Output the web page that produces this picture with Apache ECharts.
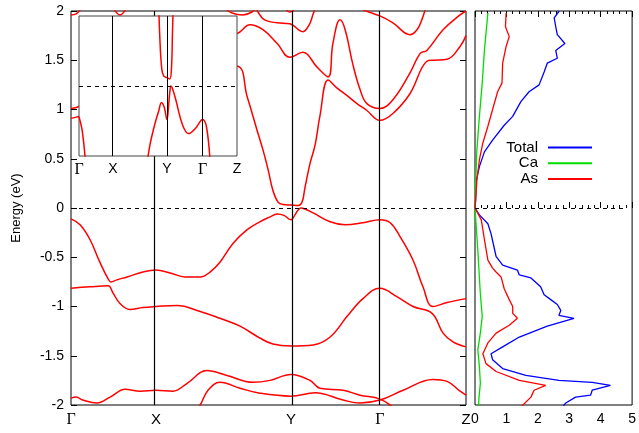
<!DOCTYPE html>
<html><head><meta charset="utf-8">
<script src="https://cdn.jsdelivr.net/npm/echarts@6/dist/echarts.min.js"></script>
<style>html,body{margin:0;padding:0;background:#fff}#c{width:639px;height:433px}</style>
</head><body><div id="c"></div>
<script>
// high-symmetry points along the k-path (fraction of path length)
const kPos = [0, 0.215, 0.557, 0.782, 1];
const kLabels = ['Γ', 'X', 'Y', 'Γ', 'Z'];
const energyTicks = [-2, 2, 0.5];

// band energies [k, E(eV)]
const bandV1 = [[0,-0.11],[0.023,-0.17],[0.048,-0.32],[0.073,-0.55],[0.094,-0.72],[0.101,-0.75],[0.116,-0.73],[0.142,-0.70],[0.182,-0.65],[0.215,-0.63],[0.251,-0.66],[0.289,-0.70],[0.327,-0.70],[0.352,-0.65],[0.377,-0.55],[0.410,-0.36],[0.446,-0.22],[0.478,-0.14],[0.504,-0.09],[0.522,-0.06],[0.539,-0.075],[0.557,-0.12],[0.567,-0.07],[0.575,-0.02],[0.582,0.0],[0.592,-0.01],[0.613,-0.05],[0.656,-0.14],[0.694,-0.17],[0.739,-0.15],[0.782,-0.12],[0.808,-0.15],[0.833,-0.29],[0.866,-0.53],[0.891,-0.80],[0.916,-1.00],[0.952,-0.96],[1.0,-0.92]];
const bandV2 = [[0,-0.815],[0.048,-0.80],[0.094,-0.79],[0.106,-0.86],[0.124,-0.97],[0.149,-1.03],[0.182,-1.01],[0.215,-1.00],[0.268,-0.99],[0.327,-1.05],[0.377,-1.12],[0.428,-1.20],[0.478,-1.32],[0.511,-1.38],[0.557,-1.40],[0.613,-1.39],[0.656,-1.31],[0.699,-1.10],[0.739,-0.92],[0.782,-0.815],[0.825,-0.90],[0.866,-1.00],[0.914,-1.07],[0.942,-1.27],[0.967,-1.36],[1.0,-1.41]];
const bandV3 = [[0,-1.93],[0.013,-1.92],[0.030,-1.95],[0.066,-1.98],[0.099,-1.92],[0.137,-1.84],[0.175,-1.86],[0.215,-1.85],[0.258,-1.86],[0.294,-1.78],[0.344,-1.65],[0.395,-1.70],[0.461,-1.77],[0.504,-1.75],[0.557,-1.69],[0.605,-1.75],[0.630,-1.83],[0.689,-1.85],[0.732,-1.90],[0.782,-1.94],[0.815,-2.02],[0.833,-2.08]];
const bandV4 = [[0.316,-2.05],[0.327,-2.00],[0.347,-1.85],[0.377,-1.77],[0.428,-1.83],[0.478,-1.88],[0.557,-1.91],[0.618,-1.875],[0.689,-1.95],[0.732,-1.98],[0.782,-1.95],[0.841,-1.85],[0.916,-1.74],[0.952,-1.76],[0.985,-1.86],[1.0,-1.90]];
const bandC1 = [[0,0.91],[0.020,0.93],[0.099,1.05],[0.215,1.20],[0.327,1.35],[0.420,1.44],[0.446,1.13],[0.471,0.79],[0.486,0.59],[0.499,0.39],[0.511,0.18],[0.524,0.06],[0.537,0.035],[0.557,0.03],[0.575,0.025],[0.585,0.06],[0.592,0.20],[0.605,0.45],[0.618,0.64],[0.630,0.93],[0.651,1.30],[0.673,1.22],[0.699,1.14],[0.724,1.06],[0.749,0.99],[0.782,0.89],[0.815,0.96],[0.858,1.16],[0.901,1.49],[0.916,1.50],[0.952,1.51],[0.985,1.64],[1.0,1.75]];
const bandC2 = [[0,1.01],[0.020,1.03],[0.099,1.20],[0.215,1.50],[0.327,1.70],[0.420,1.77],[0.453,1.86],[0.486,1.81],[0.522,1.67],[0.554,1.53],[0.587,1.58],[0.623,1.43],[0.651,1.33],[0.663,1.67],[0.681,1.91],[0.694,1.81],[0.714,1.45],[0.732,1.20],[0.749,1.06],[0.782,1.01],[0.815,1.10],[0.858,1.37],[0.884,1.57],[0.901,1.60],[0.942,1.81],[0.985,1.96],[1.0,2.0]];
const bandC3 = [[0.466,2.04],[0.484,1.93],[0.496,1.90],[0.522,1.88],[0.554,1.87],[0.587,1.79],[0.603,1.86],[0.613,1.97],[0.620,2.05]];
const bandC4 = [[0.719,2.05],[0.747,2.0],[0.782,1.95],[0.815,1.88],[0.858,1.76],[0.876,1.81],[0.889,1.92],[0.899,2.05]];
const bandC5 = [[0.382,2.05],[0.408,1.98],[0.435,1.96],[0.458,1.99],[0.473,2.05]];
const bandC6 = [[0,1.96],[0.013,1.97],[0.028,2.04]];
const bandC7 = [[0.106,2.04],[0.124,1.96],[0.142,2.04]];
const bandC8 = [[0.539,2.04],[0.554,1.99],[0.570,2.04]];
const bandList = [bandV1,bandV2,bandV3,bandV4,bandC1,bandC2,bandC3,bandC4,bandC5,bandC6,bandC7,bandC8];

// DOS [states/eV, E(eV)]
const dosTotal = [[2.68,2.0],[2.52,1.93],[2.57,1.84],[2.62,1.76],[2.86,1.67],[2.57,1.60],[2.62,1.52],[2.30,1.47],[2.20,1.38],[2.04,1.25],[1.72,1.18],[1.46,1.08],[1.20,0.93],[0.93,0.84],[0.56,0.69],[0.30,0.57],[0.14,0.42],[0.04,0.28],[0.02,0.08],[0.0,0.0],[0.14,-0.07],[0.41,-0.16],[0.51,-0.26],[0.67,-0.49],[0.88,-0.58],[1.35,-0.63],[1.41,-0.68],[1.78,-0.71],[2.09,-0.80],[2.20,-0.88],[2.41,-0.93],[2.62,-0.98],[2.73,-1.04],[2.67,-1.09],[3.15,-1.12],[2.30,-1.20],[1.41,-1.31],[0.88,-1.41],[0.51,-1.48],[0.56,-1.54],[0.88,-1.63],[1.62,-1.70],[2.67,-1.75],[3.73,-1.77],[4.31,-1.80],[3.73,-1.85],[3.68,-1.90],[3.20,-1.92],[2.89,-1.98],[2.78,-2.02]];
const dosCa = [[0.41,1.98],[0.30,1.60],[0.23,1.27],[0.14,0.93],[0.06,0.59],[0.02,0.25],[0,0],[0.09,-0.43],[0.17,-0.87],[0.23,-1.10],[0.17,-1.27],[0.09,-1.44],[0.14,-1.61],[0.17,-1.78],[0.12,-1.95],[0.12,-2.02]];
const dosAs = [[0.99,1.98],[0.97,1.84],[1.09,1.74],[0.99,1.64],[0.88,1.47],[0.86,1.27],[0.72,1.18],[0.56,1.0],[0.41,0.83],[0.25,0.66],[0.14,0.49],[0.06,0.28],[0.02,0.08],[0,0],[0.2,-0.12],[0.30,-0.32],[0.41,-0.53],[0.56,-0.61],[0.67,-0.65],[0.83,-0.70],[0.93,-0.82],[1.09,-0.93],[1.20,-1.0],[1.20,-1.07],[1.35,-1.12],[1.09,-1.19],[0.67,-1.27],[0.41,-1.37],[0.25,-1.48],[0.35,-1.58],[0.67,-1.66],[1.41,-1.75],[2.25,-1.80],[1.88,-1.85],[1.78,-1.92],[1.46,-2.02]];
const dosNames = ['Total','Ca','As'];
const dosColors = ['#0000ff','#00dd00','#ff0000'];
const dosFermiEnd = 4.75;

const FONT = 'Liberation Sans';
function kFormatter(v) {
  let best = 0;
  kPos.forEach((p, i) => { if (Math.abs(p - v) < Math.abs(kPos[best] - v)) best = i; });
  const t = kLabels[best];
  return t === 'Γ' ? '{g|Γ}' : t;
}
const kRich = { g: { fontFamily: 'Liberation Serif', fontSize: 16, color: '#000' } };

function kLines(width, z) {
  const d = kPos.slice(1, -1).map(k => ({ xAxis: k, lineStyle: { type: 'solid', color: '#000', width: width } }));
  d.push({ yAxis: 0, lineStyle: { type: [4, 4], color: '#000', width: 1 } });
  return { silent: true, symbol: 'none', animation: false, z: z, label: { show: false }, data: d };
}

const series = [];
bandList.forEach((b, i) => {
  series.push({ type: 'line', xAxisIndex: 0, yAxisIndex: 0, data: b, showSymbol: false, smooth: 0.4,
    silent: true, animation: false, z: 2,
    lineStyle: { color: '#ff0000', width: 1.5 }, markLine: i === 0 ? kLines(1.2, 3) : undefined });
});
bandList.forEach((b, i) => {
  series.push({ type: 'line', xAxisIndex: 3, yAxisIndex: 3, data: b, showSymbol: false, smooth: 0.4,
    silent: true, animation: false, z: 12, clip: true,
    lineStyle: { color: '#ff0000', width: 1.5 }, markLine: i === 0 ? kLines(1, 13) : undefined });
});
[dosTotal, dosCa, dosAs].forEach((d, i) => {
  series.push({ name: dosNames[i], type: 'line', xAxisIndex: 1, yAxisIndex: 2, data: d, showSymbol: false,
    smooth: false, silent: true, animation: false, z: 3, color: dosColors[i],
    lineStyle: { color: dosColors[i], width: 1.3 },
    markLine: i === 0 ? { silent: true, symbol: 'none', label: { show: false }, animation: false,
      data: [[{ coord: [0, 0] }, { coord: [dosFermiEnd, 0] }]], lineStyle: { type: [4, 4], color: '#000', width: 1 } } : undefined });
});

const tickStyle = { lineStyle: { color: '#000', width: 1 } };
const option = {
  animation: false,
  backgroundColor: '#fff',
  textStyle: { fontFamily: FONT, color: '#000' },
  grid: [
    { left: 71, top: 11, width: 395, height: 394, show: true, borderColor: '#000', borderWidth: 1, backgroundColor: 'transparent' },
    { left: 475, top: 11, width: 158, height: 394, show: true, borderColor: '#000', borderWidth: 1, backgroundColor: 'transparent' },
    { left: 79, top: 16, width: 158, height: 140, show: true, borderColor: '#444', borderWidth: 1, backgroundColor: '#fff', z: 10 }
  ],
  xAxis: [
    { gridIndex: 0, type: 'value', min: 0, max: 1, axisLine: { show: false }, axisTick: { show: false }, splitLine: { show: false },
      axisLabel: { customValues: kPos, showMinLabel: true, showMaxLabel: true, formatter: kFormatter, rich: kRich, fontSize: 15, color: '#000', margin: 7 } },
    { gridIndex: 1, type: 'value', min: 0, max: 5, interval: 1, axisLine: { show: false }, splitLine: { show: false },
      axisTick: Object.assign({ inside: true, length: 6 }, tickStyle),
      minorTick: { show: true, splitNumber: 5, length: 3, lineStyle: { color: '#000', width: 1 } },
      axisLabel: { fontSize: 14, color: '#000', margin: 7, showMinLabel: true, showMaxLabel: true } },
    { gridIndex: 1, type: 'value', position: 'top', min: 0, max: 5, interval: 1, axisLine: { show: false }, splitLine: { show: false },
      axisTick: Object.assign({ inside: true, length: 6 }, tickStyle),
      minorTick: { show: true, splitNumber: 5, length: 3, lineStyle: { color: '#000', width: 1 } },
      axisLabel: { show: false } },
    { gridIndex: 2, type: 'value', min: 0, max: 1, z: 10, axisLine: { show: false }, axisTick: { show: false }, splitLine: { show: false },
      axisLabel: { customValues: kPos, showMinLabel: true, showMaxLabel: true, formatter: kFormatter, rich: kRich, fontSize: 14, color: '#000', margin: 6 } }
  ],
  yAxis: [
    { gridIndex: 0, type: 'value', min: energyTicks[0], max: energyTicks[1], interval: energyTicks[2],
      axisLine: { show: false }, splitLine: { show: false },
      axisTick: Object.assign({ inside: true, length: 6 }, tickStyle),
      axisLabel: { fontSize: 14, color: '#000', margin: 7 },
      name: 'Energy (eV)', nameLocation: 'middle', nameGap: 48, nameRotate: 90,
      nameTextStyle: { fontSize: 13, color: '#000' } },
    { gridIndex: 0, type: 'value', position: 'right', min: energyTicks[0], max: energyTicks[1], interval: energyTicks[2],
      axisLine: { show: false }, splitLine: { show: false },
      axisTick: Object.assign({ inside: true, length: 6 }, tickStyle), axisLabel: { show: false } },
    { gridIndex: 1, type: 'value', min: energyTicks[0], max: energyTicks[1], interval: energyTicks[2],
      axisLine: { show: false }, splitLine: { show: false }, axisTick: { show: false }, axisLabel: { show: false } },
    { gridIndex: 2, type: 'value', min: -0.25, max: 0.25, z: 10,
      axisLine: { show: false }, splitLine: { show: false }, axisTick: { show: false }, axisLabel: { show: false } }
  ],
  legend: dosNames.map((n, i) => ({
    data: [n], right: 42, top: 135 + i * 15.7, align: 'right', icon: 'rect', itemWidth: 44, itemHeight: 2,
    selectedMode: false, textStyle: { fontSize: 15, color: '#000', padding: [0, 5, 0, 0] }
  })),
  series: series
};
const chart = echarts.init(document.getElementById('c'), null, { renderer: 'canvas' });
chart.setOption(option);
</script></body></html>
